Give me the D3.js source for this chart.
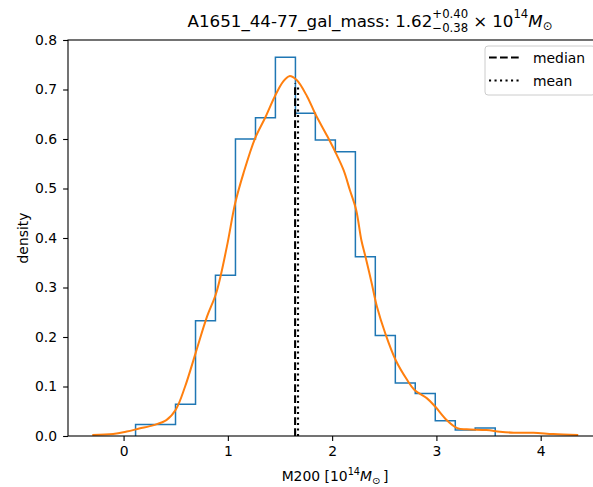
<!DOCTYPE html>
<html>
<head>
<meta charset="utf-8">
<script src="https://cdn.jsdelivr.net/npm/d3@7"></script>
<style>
  body { margin: 0; background: #fff; }
  text { font-family: "DejaVu Sans", sans-serif; }
</style>
</head>
<body>
<div id="chart"></div>
<script>
// histogram bin edges and densities
var binEdges = [0.115, 0.307, 0.498, 0.690, 0.881, 1.073, 1.265, 1.456, 1.648, 1.839,
                2.031, 2.223, 2.414, 2.606, 2.797, 2.989, 3.181, 3.372, 3.564];
var binDensity = [0.023, 0.023, 0.064, 0.233, 0.325, 0.600, 0.643, 0.765, 0.652,
                  0.598, 0.574, 0.362, 0.203, 0.107, 0.086, 0.031, 0.012, 0.016];

// kernel density estimate curve
var kdeX = [-0.30, -0.10, 0.03, 0.15, 0.29, 0.41, 0.50, 0.59, 0.69, 0.80, 0.89, 0.99,
            1.07, 1.15, 1.26, 1.36, 1.45, 1.53, 1.59, 1.66, 1.76, 1.84, 1.95, 2.03,
            2.11, 2.17, 2.23, 2.28, 2.32, 2.38, 2.43, 2.51, 2.61, 2.72, 2.79, 2.91,
            2.99, 3.10, 3.20, 3.29, 3.48, 3.61, 3.74, 3.93, 4.12, 4.36];
var kdeY = [0.002, 0.004, 0.009, 0.015, 0.022, 0.032, 0.053, 0.100, 0.167, 0.241, 0.290, 0.382,
            0.470, 0.531, 0.601, 0.644, 0.686, 0.716, 0.727, 0.719, 0.686, 0.650, 0.607, 0.574,
            0.537, 0.497, 0.457, 0.396, 0.362, 0.308, 0.261, 0.207, 0.153, 0.113, 0.093, 0.076,
            0.059, 0.032, 0.016, 0.0135, 0.012, 0.0087, 0.0067, 0.0067, 0.004, 0.002];

// summary statistics
var medianVal = 1.645, medianTop = 0.712;
var meanVal = 1.673, meanTop = 0.710;

var xTicks = [0, 1, 2, 3, 4];
var yTicks = [0, 0.1, 0.2, 0.3, 0.4, 0.5, 0.6, 0.7, 0.8];
var legendLabels = ["median", "mean"];

// Chart dimensions
var W = 593, H = 487;
var margin = {top: 40, right: 602, bottom: 436, left: 68};

var svg = d3.select("#chart").append("svg")
    .attr("width", W).attr("height", H);

var x = d3.scaleLinear().domain([-0.533, 4.588]).range([margin.left, margin.right]);
var y = d3.scaleLinear().domain([0, 0.8]).range([margin.bottom, margin.top]);

// step histogram outline
var stepPts = [[binEdges[0], 0]];
for (var i = 0; i < binDensity.length; i++) {
    stepPts.push([binEdges[i], binDensity[i]]);
    stepPts.push([binEdges[i + 1], binDensity[i]]);
}
stepPts.push([binEdges[binEdges.length - 1], 0]);

svg.append("path")
    .attr("d", d3.line().x(function(d){ return x(d[0]); }).y(function(d){ return y(d[1]); })(stepPts))
    .attr("fill", "none")
    .attr("stroke", "#1f77b4")
    .attr("stroke-width", 1.5);

// KDE
var kde = kdeX.map(function(v, i){ return [v, kdeY[i]]; });
svg.append("path")
    .attr("d", d3.line().curve(d3.curveCatmullRom)
        .x(function(d){ return x(d[0]); }).y(function(d){ return y(d[1]); })(kde))
    .attr("fill", "none")
    .attr("stroke", "#ff7f0e")
    .attr("stroke-width", 2);

// median and mean
svg.append("line")
    .attr("x1", x(medianVal)).attr("x2", x(medianVal))
    .attr("y1", y(0)).attr("y2", y(medianTop))
    .attr("stroke", "#000").attr("stroke-width", 2.1)
    .attr("stroke-dasharray", "7.7,3.3");
svg.append("line")
    .attr("x1", x(meanVal)).attr("x2", x(meanVal))
    .attr("y1", y(0)).attr("y2", y(meanTop))
    .attr("stroke", "#000").attr("stroke-width", 2.1)
    .attr("stroke-dasharray", "2.1,3.4");

// axes
var xAxis = svg.append("g")
    .attr("transform", "translate(0," + margin.bottom + ")")
    .call(d3.axisBottom(x).tickValues(xTicks).tickFormat(d3.format("d"))
        .tickSize(4.9).tickPadding(5.5).tickSizeOuter(0));
var yAxis = svg.append("g")
    .attr("transform", "translate(" + margin.left + ",0)")
    .call(d3.axisLeft(y).tickValues(yTicks).tickFormat(d3.format(".1f"))
        .tickSize(4.9).tickPadding(6).tickSizeOuter(0));
[xAxis, yAxis].forEach(function(a){
    a.select(".domain").remove();
    a.selectAll("text").attr("font-size", "13.9px").attr("fill", "#000")
        .attr("font-family", "DejaVu Sans");
    a.selectAll("line").attr("stroke", "#000").attr("stroke-width", 1.1);
});

// frame
svg.append("rect")
    .attr("x", margin.left).attr("y", margin.top)
    .attr("width", margin.right - margin.left).attr("height", margin.bottom - margin.top)
    .attr("fill", "none").attr("stroke", "#000").attr("stroke-width", 1.1);

// helper to lay out simple mathtext pieces
function mathText(g, pieces, size) {
    var cx = 0;
    pieces.forEach(function(p) {
        var fs = size * (p.scale || 1);
        cx += (p.padL || 0) * size;
        if (p.stack) {
            var wMax = 0;
            p.stack.forEach(function(s) {
                var t = g.append("text").attr("x", cx).attr("y", s.dy * size)
                    .attr("font-size", fs + "px").text(s.t);
                wMax = Math.max(wMax, t.node().getComputedTextLength());
            });
            cx += wMax;
        } else {
            var t = g.append("text").attr("x", cx).attr("y", (p.dy || 0) * size)
                .attr("font-size", fs + "px").attr("font-style", p.italic ? "italic" : null)
                .text(p.t);
            cx += t.node().getComputedTextLength();
        }
        cx += (p.pad || 0) * size;
    });
    return cx;
}

// title
var tg = svg.append("g");
var tw = mathText(tg, [
    {t: "A1651_44-77_gal_mass: 1.62"},
    {stack: [{t: "+0.40", dy: -0.52}, {t: "\u22120.38", dy: 0.28}], scale: 0.7},
    {t: "\u00d7", padL: 0.3, pad: 0.3},
    {t: "10"},
    {t: "14", scale: 0.7, dy: -0.52},
    {t: "M", italic: true},
    {t: "\u2299", scale: 0.7, dy: 0.2}
], 16.7);
tg.attr("transform", "translate(" + (370 - tw / 2) + ",27)");

// x label
var xg = svg.append("g");
var xw = mathText(xg, [
    {t: "M200 [10"},
    {t: "14", scale: 0.7, dy: -0.45},
    {t: "M", italic: true},
    {t: "\u2299", scale: 0.7, dy: 0.2, pad: 0.2},
    {t: "]"}
], 13.9);
xg.attr("transform", "translate(" + ((margin.left + margin.right) / 2 - xw / 2) + ",481)");

// y label
svg.append("text")
    .attr("transform", "translate(28," + (margin.top + margin.bottom) / 2 + ") rotate(-90)")
    .attr("text-anchor", "middle")
    .attr("font-size", "13.9px")
    .text("density");

// legend
var lg = svg.append("g").attr("transform", "translate(485,46)");
lg.append("rect")
    .attr("width", 110).attr("height", 49).attr("rx", 3)
    .attr("fill", "#fff").attr("fill-opacity", 0.8)
    .attr("stroke", "#ccc").attr("stroke-width", 1);
var dashes = ["7.7,3.3", "2.1,3.4"];
legendLabels.forEach(function(lbl, i) {
    var yy = 11.5 + i * 23;
    lg.append("line").attr("x1", 4).attr("x2", 35).attr("y1", yy).attr("y2", yy)
        .attr("stroke", "#000").attr("stroke-width", 2.1)
        .attr("stroke-dasharray", dashes[i]);
    lg.append("text").attr("x", 48).attr("y", yy + 5)
        .attr("font-size", "13.9px").text(lbl);
});
</script>
</body>
</html>
